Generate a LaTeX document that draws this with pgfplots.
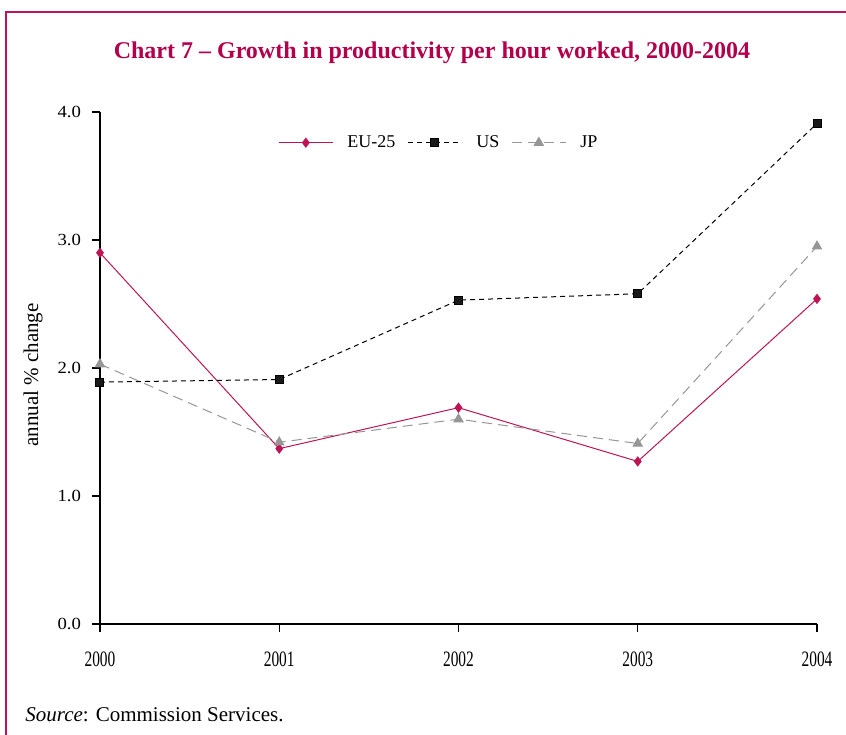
\documentclass[border=0pt]{standalone}
\usepackage{pgfplots}
\pgfplotsset{compat=1.18}
\usepackage{fontspec}
\setmainfont{Liberation Serif}
\newfontfamily\xtickfont{Liberation Serif}[FakeStretch=0.7]
\newfontfamily\ytickfont{Liberation Serif}[FakeStretch=1.1]
\definecolor{crim}{RGB}{190,20,85}
\definecolor{titlecol}{RGB}{180,0,75}
\definecolor{jpgray}{RGB}{150,150,150}
\begin{document}
\begin{tikzpicture}[x=1pt,y=1pt]
\useasboundingbox (-50,-55) rectangle (373,312);
\draw[crim, line width=0.9pt] (-47,-70) -- (-47,306) -- (390,306);
\begin{axis}[
  at={(0,0)}, anchor=south west,
  scale only axis, width=358.5pt, height=256pt,
  xmin=2000, xmax=2004, ymin=0, ymax=4,
  axis x line=bottom, axis y line=left,
  axis line style={-, line width=0.6pt},
  xtick={2000,2001,2002,2003,2004}, ytick={0,1,2,3,4},
  tick align=outside, major tick length=4pt,
  tick style={line width=0.6pt, black},
  /pgf/number format/assume math mode=true,
  xticklabel style={/pgf/number format/1000 sep={}, font=\xtickfont\fontsize{11}{12}\selectfont, yshift=-6.5pt},
  yticklabel style={/pgf/number format/fixed, /pgf/number format/fixed zerofill, /pgf/number format/precision=1, font=\ytickfont\fontsize{8.5}{9}\selectfont, xshift=-2pt},
  clip=false,
  legend style={at={(0.474,0.94)}, anchor=center, draw=none, fill=none, legend columns=3, font=\fontsize{9}{10}\selectfont, /tikz/every even column/.append style={column sep=4pt}},
  legend image code/.code={\draw[mark repeat=2,mark phase=2] plot coordinates {(0pt,0pt)(13.5pt,0pt)(27pt,0pt)}; \path (32pt,0pt);},
]
\addplot[crim, line width=0.5pt, mark=diamond*, mark size=2.2pt, mark options={solid, fill=crim}] coordinates {
(2000,2.90) (2001,1.37) (2002,1.69) (2003,1.27) (2004,2.54)};
\addlegendentry{EU-25}
\addplot[black, line width=0.5pt, dash pattern=on 2.5pt off 2pt, mark=square*, mark size=2pt, mark options={solid, fill=black!90}] coordinates {
(2000,1.89) (2001,1.91) (2002,2.53) (2003,2.58) (2004,3.91)};
\addlegendentry{US}
\addplot[jpgray, line width=0.5pt, dash pattern=on 5pt off 3pt, mark=triangle*, mark size=2.6pt, mark options={solid, fill=jpgray}] coordinates {
(2000,2.03) (2001,1.42) (2002,1.60) (2003,1.41) (2004,2.95)};
\addlegendentry{JP}
\end{axis}
\node[font=\bfseries\fontsize{12}{14}\selectfont, text=titlecol] at (166,285.5) {Chart 7 -- Growth in productivity per hour worked, 2000-2004};
\node[rotate=90, font=\fontsize{10.5}{12}\selectfont] at (-33.5,124.5) {annual \% change};
\node[anchor=base west, inner sep=0pt, font=\fontsize{10.5}{12}\selectfont] at (-37.5,-48.5) {\textit{Source}: Commission Services.};
\end{tikzpicture}
\end{document}
